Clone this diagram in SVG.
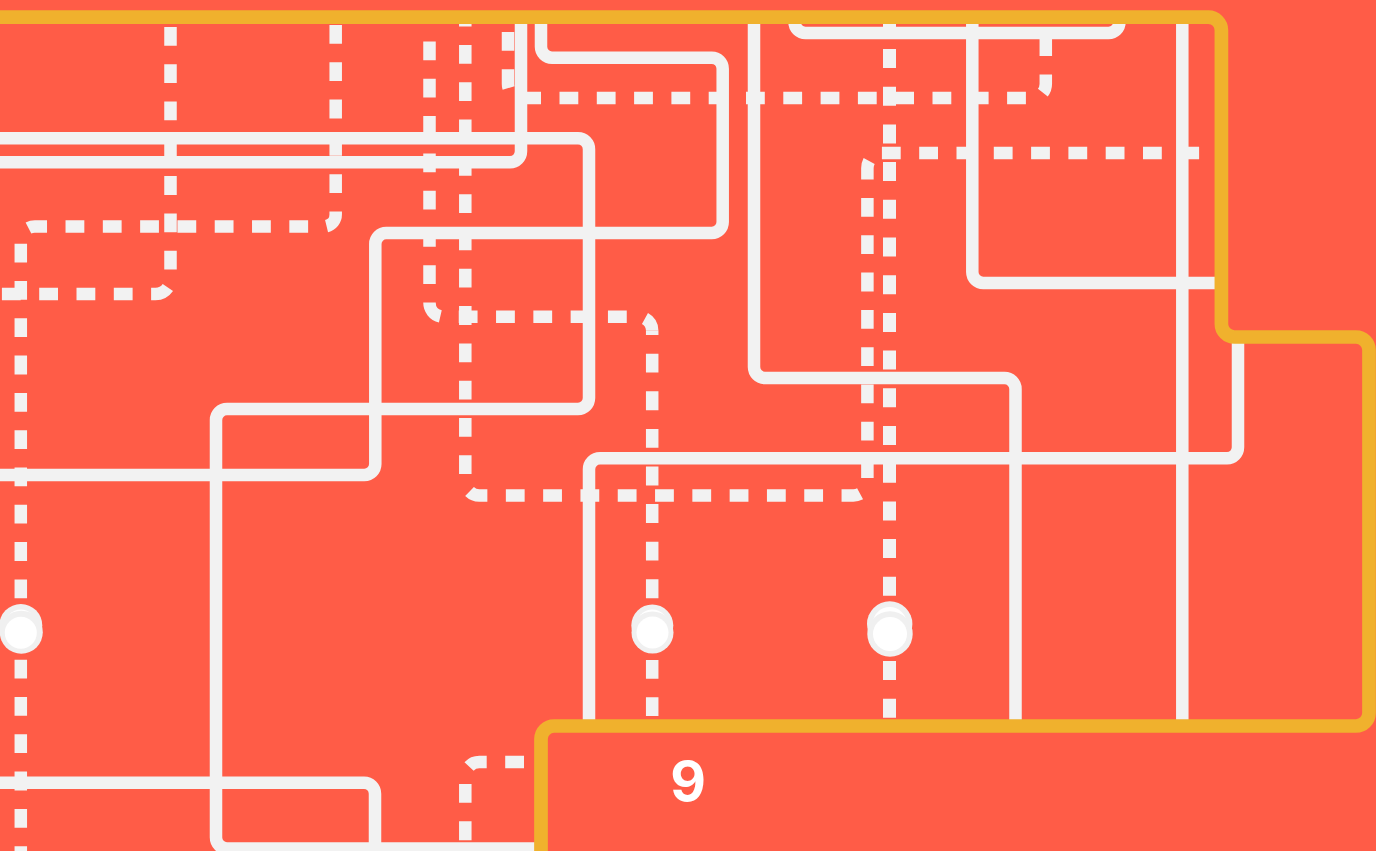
<svg xmlns="http://www.w3.org/2000/svg" width="1376" height="851" viewBox="0 0 1376 851">
<style>
.s{fill:none;stroke:#f2f2f2;stroke-width:12.5}
.d{fill:none;stroke:#f2f2f2;stroke-width:12.5;stroke-dasharray:18.8 18.5}
.e{fill:none;stroke:#f2f2f2;stroke-width:12.5;stroke-dasharray:18.9 18.7}
.t{fill:none;stroke:#f2f2f2;stroke-width:13;stroke-dasharray:19 18.7}
.y{fill:none;stroke:#f0b12d;stroke-width:13.7}
.r{fill:#f0f0f0}
.w{fill:#fff}
.l{font-family:Inter,"Liberation Sans",sans-serif;font-weight:700;font-size:55px;fill:#fff}
</style>
<rect id="background" width="1376" height="851" fill="#ff5c47"/>
<g id="connectors">
<path class="s" d="M-5 138.2H578A11 11 0 0 1 589 149.2V398A11 11 0 0 1 578 409H227A11 11 0 0 0 216 420V837.5A11 11 0 0 0 227 848.5H541"/>
<path class="s" d="M-5 162.3H510A11 11 0 0 0 521 151.3V17"/>
<path class="s" d="M541 17V46.7A11 11 0 0 0 552 57.7H711.7A11 11 0 0 1 722.7 68.7V222A11 11 0 0 1 711.7 233H386.3A11 11 0 0 0 375.3 244V464A11 11 0 0 1 364.3 475H-5"/>
<path class="s" d="M754 17V367A11 11 0 0 0 765 378H1004.5A11 11 0 0 1 1015.5 389V726"/>
<path class="s" d="M794.5 17V22A11 11 0 0 0 805.5 33H1108.5A11 11 0 0 0 1119.5 22V17"/>
<path class="s" d="M972.3 17V272A11 11 0 0 0 983.3 283H1221"/>
<path class="s" d="M1182.3 17V726"/>
<path class="s" d="M589 726V469.3A11 11 0 0 1 600 458.3H1227A11 11 0 0 0 1238 447.3V337"/>
<path class="s" d="M-5 782.7H364A11 11 0 0 1 375 793.7V848"/>
<path class="d" stroke-dashoffset="27.4" d="M170.5 17V279A15 15 0 0 1 155.5 294H-5"/>
<path class="d" stroke-dashoffset="29.3" d="M335.7 17V214.5A12 12 0 0 1 323.7 226.5H34.8A14 14 0 0 0 20.8 240.5V626"/>
<path class="d" stroke-dashoffset="9.6" d="M20.8 632V856"/>
<path class="d" stroke-dashoffset="12.8" d="M429.5 17V302.8A14 14 0 0 0 443.5 316.8H638.2A14 14 0 0 1 652.2 330.8"/>
<path class="e" stroke-dashoffset="14.7" d="M652.2 330.8V626"/>
<path class="d" stroke-dashoffset="9.3" d="M652.2 632V726"/>
<path class="d" stroke-dashoffset="9.3" d="M465.3 17V481.5A14 14 0 0 0 479.3 495.5H853.4A14 14 0 0 0 867.4 481.5V168A15 15 0 0 1 882.4 153"/>
<path class="d" stroke-dashoffset="36.8" d="M881.4 153H1221"/>
<path class="d" stroke-dashoffset="20.3" d="M541 762H479.3A14 14 0 0 0 465.3 776V856"/>
<path class="d" stroke-dashoffset="22.3" d="M508 17V84A14 14 0 0 0 522 98"/>
<path class="d" d="M522.2 98H1031.8A14 14 0 0 0 1045.8 84V17"/>
<path class="t" stroke-dashoffset="5.7" d="M889.5 17V629"/>
<path class="t" stroke-dashoffset="10.7" d="M889.5 634V726"/>
<path class="y" d="M-5 17.2H1208.4A13 13 0 0 1 1221.4 30.2V324A13 13 0 0 0 1234.4 337H1356A13 13 0 0 1 1369 350V713A13 13 0 0 1 1356 726H554A13 13 0 0 0 541 739V856"/>
</g>
<g id="node-left">
<circle class="r" cx="20.8" cy="625.5" r="21.5"/><circle class="w" cx="20.8" cy="625.5" r="16"/>
<circle class="r" cx="21.3" cy="632.2" r="21.5"/><circle class="w" cx="20.8" cy="632.7" r="16"/>
</g>
<g id="node-middle">
<circle class="r" cx="652.3" cy="625.5" r="21"/><circle class="w" cx="652.3" cy="625.5" r="16"/>
<circle class="r" cx="652.5" cy="632.5" r="21"/><circle class="w" cx="652.5" cy="632.5" r="16"/>
</g>
<g id="node-right">
<circle class="r" cx="889.7" cy="624" r="22.7"/><circle class="w" cx="889.7" cy="624" r="17"/>
<circle class="r" cx="890" cy="634" r="22.7"/><circle class="w" cx="890" cy="634" r="17"/>
</g>
<g id="label-9"><text class="l" x="688" y="801" text-anchor="middle">9</text></g>
</svg>
